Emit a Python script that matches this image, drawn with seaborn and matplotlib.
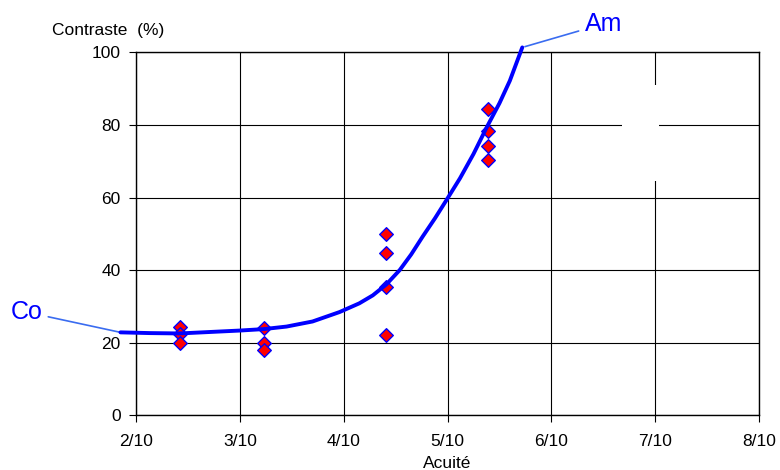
# Contraste vs acuité

import numpy as np
import pandas as pd
import seaborn as sns
import matplotlib.pyplot as plt
from matplotlib.patches import Rectangle

# measured points (acuité in tenths, contraste in %)
acuite_pts = [2.42, 2.42, 2.42,
              3.23, 3.23, 3.23,
              4.41, 4.41, 4.41, 4.41,
              5.39, 5.39, 5.39, 5.39]
contraste_pts = [24.2, 22.3, 20.0,
                 24.1, 20.0, 17.9,
                 49.8, 44.6, 35.2, 22.1,
                 84.4, 78.3, 74.3, 70.3]

# fitted curve
curve_x = [1.85, 2.13, 2.42, 2.71, 3.00, 3.23, 3.45, 3.70, 3.96, 4.15,
           4.28, 4.41, 4.54, 4.65, 4.76, 4.88, 4.99, 5.12, 5.25, 5.38,
           5.50, 5.60, 5.72]
curve_y = [22.8, 22.6, 22.5, 22.9, 23.3, 23.7, 24.4, 25.8, 28.4, 30.8,
           33.0, 36.0, 40.0, 44.3, 49.2, 54.3, 59.3, 65.3, 72.0, 79.5,
           86.0, 92.2, 101.4]

x_ticks = [2, 3, 4, 5, 6, 7, 8]
x_labels = ["2/10", "3/10", "4/10", "5/10", "6/10", "7/10", "8/10"]
y_ticks = [0, 20, 40, 60, 80, 100]


def make_plot():
    sns.set_style("ticks", rc={"text.color": "black", "xtick.color": "black",
                               "ytick.color": "black", "axes.labelcolor": "black"})
    plt.rcParams['font.family'] = ['Liberation Sans', 'DejaVu Sans']

    fig = plt.figure(figsize=(7.8, 4.7), dpi=100)
    ax = fig.add_axes([0.1744, 0.117, 0.7987, 0.7713])

    pts = pd.DataFrame({"acuite": acuite_pts, "contraste": contraste_pts})
    curve = pd.DataFrame({"acuite": curve_x, "contraste": curve_y})

    ax.set_xlim(2, 8)
    ax.set_ylim(0, 100)
    ax.grid(True, color="black", linewidth=0.8)
    ax.set_axisbelow(True)

    # white patch hiding part of the grid
    ax.add_patch(Rectangle((6.68, 64.6), 0.36, 26.4, facecolor="white",
                           edgecolor="none", zorder=1))

    sns.scatterplot(data=pts, x="acuite", y="contraste", ax=ax, marker="D",
                    s=48, color="red", edgecolor="blue", linewidth=1.0, zorder=3)
    sns.lineplot(data=curve, x="acuite", y="contraste", ax=ax, color="blue",
                 linewidth=2.8, zorder=4, clip_on=False)

    ax.annotate("Co", xy=(curve_x[0], curve_y[0]), xytext=(0.79, 28.4),
                textcoords="data", fontsize=18, color="blue",
                ha="left", va="center", annotation_clip=False,
                arrowprops=dict(arrowstyle="-", color="#3a6cf0", lw=1.2,
                                shrinkA=2, shrinkB=0))
    ax.annotate("Am", xy=(curve_x[-1], curve_y[-1]), xytext=(6.32, 107.9),
                textcoords="data", fontsize=18, color="blue",
                ha="left", va="center", annotation_clip=False,
                arrowprops=dict(arrowstyle="-", color="#3a6cf0", lw=1.2,
                                shrinkA=2, shrinkB=2))

    ax.set_xticks(x_ticks)
    ax.set_xticklabels(x_labels)
    ax.set_yticks(y_ticks)
    ax.tick_params(axis="both", labelsize=12.5, length=5, width=0.8,
                   color="black", labelcolor="black", direction="out")
    ax.tick_params(axis="x", pad=9)
    ax.tick_params(axis="y", pad=6)
    for sp in ax.spines.values():
        sp.set_visible(True)
        sp.set_color("black")
        sp.set_linewidth(1.0)

    ax.set_xlabel("Acuité", fontsize=12.5, labelpad=5, color="black")
    ax.set_ylabel("")
    ax.text(-0.135, 1.061, "Contraste  (%)", transform=ax.transAxes,
            ha="left", va="center", fontsize=12.5, color="black")

    fig.savefig("out.png", dpi=100)


if __name__ == '__main__':
    make_plot()
